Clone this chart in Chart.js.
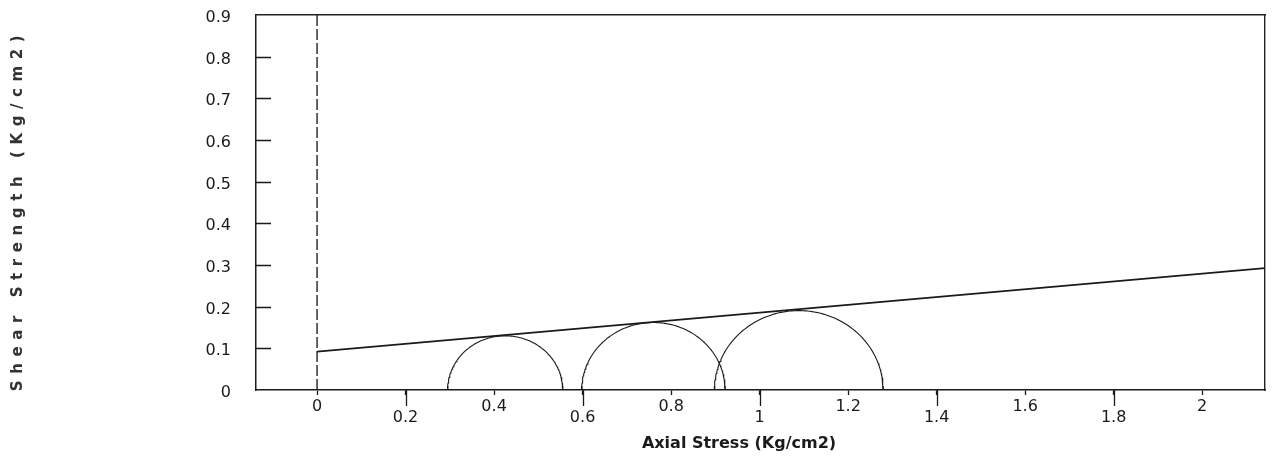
<!doctype html>
<html>
<head>
<meta charset="utf-8">
<title>Mohr circles</title>
<script src="https://cdn.jsdelivr.net/npm/chart.js"></script>
<style>body{margin:0;background:#fff}</style>
</head>
<body>
<canvas id="chart" width="1277" height="457"></canvas>
<script>
// test results (Kg/cm2)
const sigma3 = [0.295, 0.598, 0.898]
const sigma1 = [0.555, 0.922, 1.279]
const cohesion = 0.092
const frictionSlope = 0.0935

const xTicks = [0, 0.2, 0.4, 0.6, 0.8, 1, 1.2, 1.4, 1.6, 1.8, 2]
const yTicks = [0, 0.1, 0.2, 0.3, 0.4, 0.5, 0.6, 0.7, 0.8, 0.9]
const xMin = -0.138
const xMax = 2.142
const xTitle = 'Axial Stress (Kg/cm2)'
const yTitle = 'Shear Strength (Kg/cm2)'

const ink = '#1a1a1a'

// half circle for each test, from sigma3 to sigma1
function mohr(s3, s1) {
  const c = (s1 + s3) / 2
  const r = (s1 - s3) / 2
  const pts = []
  for (let k = 0; k <= 120; k++) {
    const t = Math.PI - (Math.PI * k) / 120
    pts.push({ x: c + r * Math.cos(t), y: r * Math.sin(t) })
  }
  return pts
}

const datasets = sigma3.map((s3, i) => ({
  data: mohr(s3, sigma1[i]),
  borderColor: ink,
  borderWidth: 1.1,
  pointRadius: 0,
  showLine: true,
}))

datasets.push({
  data: [
    { x: 0, y: cohesion },
    { x: xMax, y: cohesion + frictionSlope * xMax },
  ],
  borderColor: ink,
  borderWidth: 1.8,
  pointRadius: 0,
  showLine: true,
})

datasets.push({
  data: [{ x: 0, y: 0 }, { x: 0, y: 0.9 }],
  borderColor: '#222',
  borderWidth: 1.4,
  borderDash: [11, 3],
  pointRadius: 0,
  showLine: true,
})

// little marks where the circles meet the axis
datasets.push({
  data: sigma3.concat(sigma1).map((v) => ({ x: v, y: 0 })),
  pointStyle: 'line',
  rotation: 90,
  pointRadius: 4,
  borderColor: ink,
  borderWidth: 1.3,
  showLine: false,
})

const fmt = (v) => String(parseFloat(v.toFixed(2)))

// keep the plot box where the scan has it
const noPad = (s) => {
  s.paddingTop = 0
  s.paddingBottom = 0
  s.paddingLeft = 0
  s.paddingRight = 0
}

const extras = {
  id: 'extras',
  afterDraw(chart) {
    const { ctx, chartArea: a, scales } = chart
    const x = scales.x
    const y = scales.y
    ctx.save()
    ctx.strokeStyle = ink
    ctx.lineWidth = 1.3
    ctx.beginPath()
    yTicks.slice(1, -1).forEach((v) => {
      const p = Math.round(y.getPixelForValue(v)) + 0.5
      ctx.moveTo(a.left, p)
      ctx.lineTo(a.left + 15, p)
    })
    xTicks.forEach((v, i) => {
      if (i % 2) {
        const p = Math.round(x.getPixelForValue(v)) + 0.5
        ctx.moveTo(p, a.bottom)
        ctx.lineTo(p, a.bottom + 16)
      }
    })
    ctx.stroke()

    ctx.fillStyle = ink
    ctx.textAlign = 'center'
    ctx.textBaseline = 'middle'
    ctx.font = 'bold 16px "DejaVu Sans"'
    ctx.fillText(xTitle, 739, 444)

    ctx.fillStyle = '#333'
    ctx.font = 'bold 15px "DejaVu Sans"'
    const w0 = ctx.measureText(yTitle).width
    ctx.letterSpacing = ((356 - w0) / (yTitle.length - 1)).toFixed(2) + 'px'
    ctx.translate(18, 210)
    ctx.rotate(-Math.PI / 2)
    ctx.fillText(yTitle, 0, 0)
    ctx.restore()
  },
}

new Chart(document.getElementById('chart'), {
  type: 'scatter',
  data: { datasets },
  plugins: [extras],
  options: {
    responsive: false,
    animation: false,
    layout: { padding: { top: 15, right: 12, left: 0, bottom: 0 } },
    plugins: { legend: { display: false }, tooltip: { enabled: false } },
    scales: {
      x: {
        type: 'linear',
        position: 'bottom',
        min: xMin,
        max: xMax,
        afterBuildTicks: (s) => { s.ticks = xTicks.map((v) => ({ value: v })) },
        afterFit: (s) => { s.height = 67; noPad(s) },
        grid: { drawOnChartArea: false, tickLength: 5, tickColor: ink, tickWidth: 1.3 },
        border: { color: ink, width: 1.5 },
        ticks: {
          color: ink,
          padding: 6.5,
          maxRotation: 0,
          autoSkip: false,
          font: { family: 'DejaVu Sans', size: 16, lineHeight: '11px' },
          callback: (v) => (Math.round(v / 0.2) % 2 ? ['', fmt(v)] : fmt(v)),
        },
      },
      y: {
        type: 'linear',
        position: 'left',
        min: 0,
        max: 0.9,
        afterBuildTicks: (s) => { s.ticks = yTicks.map((v) => ({ value: v })) },
        afterFit: (s) => { s.width = 256; noPad(s) },
        grid: { display: false },
        border: { color: ink, width: 1.5 },
        ticks: {
          color: ink,
          padding: 17,
          labelOffset: 3,
          font: { family: 'DejaVu Sans', size: 16 },
          callback: (v) => fmt(v),
        },
      },
      xTop: {
        type: 'linear',
        position: 'top',
        min: xMin,
        max: xMax,
        afterFit: (s) => { s.height = 0; noPad(s) },
        grid: { display: false },
        ticks: { display: false },
        border: { color: '#222', width: 1.4 },
      },
      yRight: {
        type: 'linear',
        position: 'right',
        min: 0,
        max: 0.9,
        afterFit: (s) => { s.width = 0; noPad(s) },
        grid: { display: false },
        ticks: { display: false },
        border: { color: '#222', width: 1.4, dash: [11, 3] },
      },
    },
  },
})
</script>
</body>
</html>
